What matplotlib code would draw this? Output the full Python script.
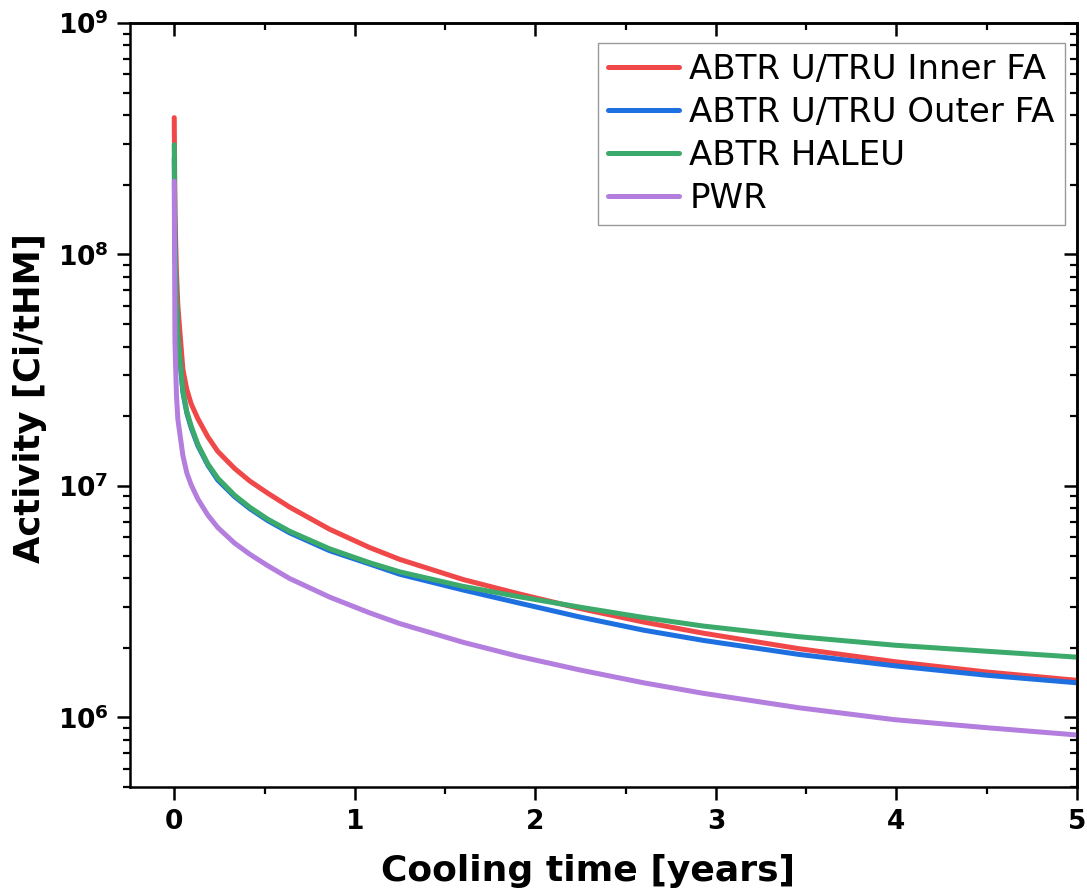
"""
Activity vs cooling time for ABTR fuel assemblies and a PWR reference.
"""

import numpy as np
import matplotlib
matplotlib.use("Agg")
import matplotlib.pyplot as plt
from matplotlib.ticker import MultipleLocator, LogLocator, NullFormatter

# Data (Ci/tHM)
time_yr = [0.0, 0.004, 0.012, 0.02, 0.048, 0.07, 0.094, 0.131, 0.186, 0.241,
           0.334, 0.418, 0.518, 0.639, 0.86, 1.081, 1.25, 1.6, 1.9, 2.25,
           2.6, 2.93, 3.46, 3.99, 4.5, 5.0]

inner_fa = [3.9e8, 1.5e8, 8.5e7, 6.0e7, 3.18e7, 2.6e7, 2.26e7, 1.95e7, 1.63e7, 1.41e7,
            1.19e7, 1.05e7, 9.3e6, 8.1e6, 6.5e6, 5.42e6, 4.81e6, 3.94e6, 3.43e6, 2.95e6,
            2.58e6, 2.31e6, 1.98e6, 1.74e6, 1.57e6, 1.445e6]
outer_fa = [2.6e8, 1.05e8, 6.3e7, 4.36e7, 2.53e7, 2.06e7, 1.78e7, 1.49e7, 1.23e7, 1.06e7,
            8.99e6, 7.98e6, 7.08e6, 6.27e6, 5.25e6, 4.60e6, 4.15e6, 3.55e6, 3.13e6, 2.71e6,
            2.38e6, 2.15e6, 1.87e6, 1.67e6, 1.52e6, 1.41e6]
haleu = [2.98e8, 1.1e8, 6.5e7, 4.43e7, 2.57e7, 2.09e7, 1.81e7, 1.51e7, 1.245e7, 1.08e7,
         9.12e6, 8.09e6, 7.18e6, 6.37e6, 5.35e6, 4.66e6, 4.25e6, 3.68e6, 3.33e6, 2.99e6,
         2.70e6, 2.48e6, 2.23e6, 2.05e6, 1.93e6, 1.82e6]
pwr = [2.07e8, 4.2e7, 2.5e7, 1.94e7, 1.35e7, 1.135e7, 1.01e7, 8.77e6, 7.48e6, 6.61e6,
       5.66e6, 5.07e6, 4.52e6, 3.98e6, 3.31e6, 2.83e6, 2.54e6, 2.11e6, 1.84e6, 1.60e6,
       1.41e6, 1.27e6, 1.10e6, 9.77e5, 9.02e5, 8.39e5]

labels = ["ABTR U/TRU Inner FA", "ABTR U/TRU Outer FA", "ABTR HALEU", "PWR"]
colors = ["#F04848", "#1E6FE0", "#3BAA6A", "#B47EDE"]

plt.rcParams["mathtext.default"] = "bf"


def main():
    fig = plt.figure(figsize=(10.87, 8.92), dpi=100)
    ax = fig.add_axes([0.1196, 0.1177, 0.8712, 0.8565])

    for y, lab, c in zip([inner_fa, outer_fa, haleu, pwr], labels, colors):
        ax.plot(time_yr, y, color=c, lw=3.6, label=lab,
                solid_capstyle="round", solid_joinstyle="round")

    ax.set_yscale("log")
    ax.set_xlim(-0.245, 5)
    ax.set_ylim(5e5, 1e9)

    ax.xaxis.set_major_locator(MultipleLocator(1))
    ax.xaxis.set_minor_locator(MultipleLocator(0.5))
    ax.yaxis.set_major_locator(LogLocator(base=10, numticks=10))
    ax.yaxis.set_minor_locator(LogLocator(base=10, subs=np.arange(2, 10), numticks=20))
    ax.yaxis.set_minor_formatter(NullFormatter())

    for s in ax.spines.values():
        s.set_linewidth(1.8)

    ax.tick_params(which="major", direction="out", length=9.5, width=1.8,
                   labelsize=19, pad=6)
    ax.tick_params(which="minor", direction="out", length=5, width=1.6)
    for lbl in ax.get_xticklabels() + ax.get_yticklabels():
        lbl.set_fontweight("bold")

    # mirrored ticks pointing inward on top and right
    top = ax.secondary_xaxis("top")
    top.xaxis.set_major_locator(MultipleLocator(1))
    top.xaxis.set_minor_locator(MultipleLocator(0.5))
    top.tick_params(which="major", direction="in", length=9.5, width=1.8, labeltop=False)
    top.tick_params(which="minor", direction="in", length=5, width=1.6)
    top.spines["top"].set_linewidth(1.8)

    right = ax.secondary_yaxis("right")
    right.yaxis.set_major_locator(LogLocator(base=10, numticks=10))
    right.yaxis.set_minor_locator(LogLocator(base=10, subs=np.arange(2, 10), numticks=20))
    right.tick_params(which="major", direction="in", length=9.5, width=1.8, labelright=False)
    right.tick_params(which="minor", direction="in", length=5, width=1.6, labelright=False)
    right.spines["right"].set_linewidth(1.8)

    ax.set_xlabel("Cooling time [years]", fontsize=26, fontweight="bold")
    ax.set_ylabel("Activity [Ci/tHM]", fontsize=25.5, fontweight="bold")
    ax.xaxis.set_label_coords(0.484, -0.088)
    ax.yaxis.set_label_coords(-0.088, 0.509)

    leg = ax.legend(loc="upper right", bbox_to_anchor=(0.9873, 0.9738),
                    borderaxespad=0, fontsize=24.5, frameon=True, fancybox=False,
                    handlelength=2.1, handletextpad=0.3, labelspacing=0.29,
                    borderpad=0.3)
    leg.get_frame().set_edgecolor("#808080")
    leg.get_frame().set_linewidth(1.0)

    fig.savefig("out.png", dpi=100)
    plt.close(fig)


if __name__ == "__main__":
    main()
